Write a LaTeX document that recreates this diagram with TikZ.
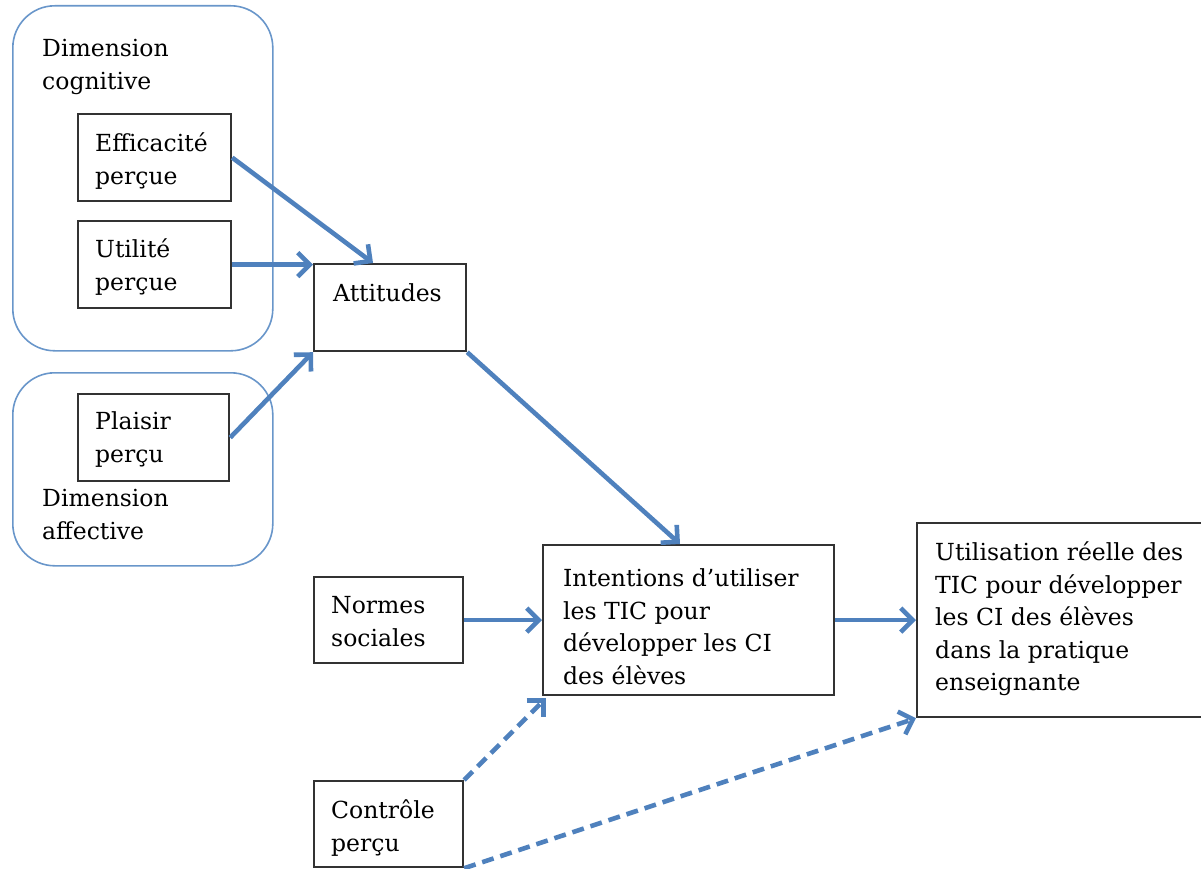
\documentclass[tikz,border=0pt]{standalone}
\usepackage{fontspec}
\setmainfont{DejaVu Serif}
\usetikzlibrary{arrows.meta,calc}
\definecolor{arrowblue}{RGB}{79,129,189}
\definecolor{framegray}{RGB}{50,50,50}
\definecolor{groupblue}{RGB}{105,150,202}

\begin{document}
\begin{tikzpicture}[x=1pt,y=-1pt,
  box/.style={draw=framegray, line width=2.2pt, rectangle, inner sep=0pt, anchor=north west},
  group/.style={draw=groupblue, line width=1.6pt, rectangle, rounded corners=42pt, inner sep=0pt, anchor=north west},
  lbl/.style={anchor=north west, inner sep=0pt, align=left, font=\fontsize{23.5}{32.5}\selectfont, text=black},
  link/.style={draw=arrowblue, line width=4.6pt, -{Straight Barb[length=12pt,width=24pt]}},
  weak/.style={link, dash pattern=on 12pt off 7pt}
]
\useasboundingbox (0,0) rectangle (1201,869);

% groups of perceptions
\node[group, minimum width=260pt, minimum height=345pt] (cog) at (12,5) {};
\node[group, minimum width=260pt, minimum height=193pt] (aff) at (12,372) {};
\node[lbl] (cogtxt) at (42,34) {\strut Dimension\\cognitive};
\node[lbl] (afftxt) at (42,484) {\strut Dimension\\affective};

% boxes
\node[box, minimum width=153pt, minimum height=87pt] (eff) at (77,113) {};
\node[box, minimum width=153pt, minimum height=87pt] (utl) at (77,220) {};
\node[box, minimum width=151pt, minimum height=87pt] (pla) at (77,393) {};
\node[box, minimum width=152pt, minimum height=87pt] (att) at (313,263) {};
\node[box, minimum width=149pt, minimum height=86pt] (nor) at (313,576) {};
\node[box, minimum width=149pt, minimum height=86pt] (ctl) at (313,780) {};
\node[box, minimum width=291pt, minimum height=150pt] (int) at (542,544) {};
\node[box, minimum width=290pt, minimum height=194pt] (uti) at (916,522) {};

% box texts
\node[lbl] (efftxt) at (95,129) {\strut Efficacité\\perçue};
\node[lbl] (utltxt) at (95,235) {\strut Utilité\\perçue};
\node[lbl] (platxt) at (95,407) {\strut Plaisir\\perçu};
\node[lbl] (atttxt) at (333,279) {\strut Attitudes};
\node[lbl] (nortxt) at (331,591) {\strut Normes\\sociales};
\node[lbl] (ctltxt) at (331,796) {\strut Contrôle\\perçu};
\node[lbl] (inttxt) at (563,564) {\strut Intentions d’utiliser\\les TIC pour\\développer les CI\\des élèves};
\node[lbl] (utitxt) at (935,538) {\strut Utilisation réelle des\\TIC pour développer\\les CI des élèves\\dans la pratique\\enseignante};

% connectors
\draw[link] (eff.east) -- ($(att.north west)+(60,0)$);
\draw[link] (utl.east) -- (utl.east -| att.west);
\draw[link] (pla.east) -- (att.south west);
\draw[link] (att.south east) -- ($(int.north west)+(138,0)$);
\draw[link] (nor.east) -- (nor.east -| int.west);
\draw[link] (int.east) -- (int.east -| uti.west);
\draw[weak] (ctl.north east) -- ($(int.south west)+(4,2)$);
\draw[weak] (ctl.south east) -- (uti.south west);
\end{tikzpicture}
\end{document}
